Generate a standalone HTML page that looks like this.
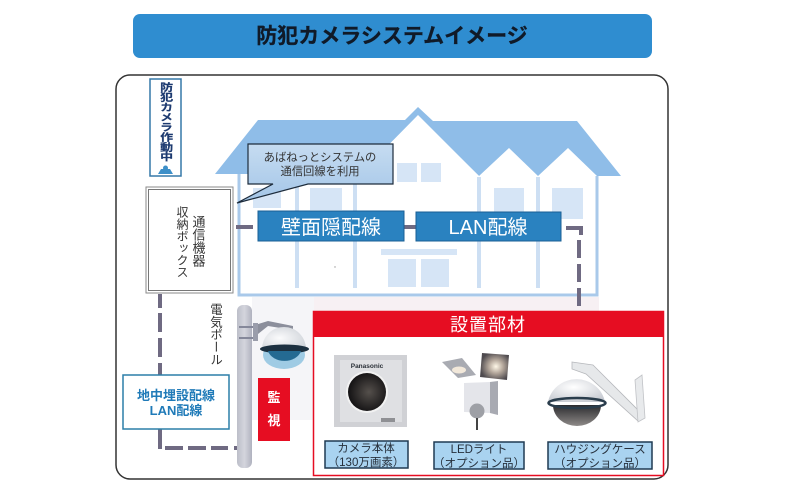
<!DOCTYPE html>
<html lang="ja">
<head>
<meta charset="utf-8">
<title>防犯カメラシステムイメージ</title>
<style>
html,body{margin:0;padding:0;background:#fff;width:800px;height:491px;overflow:hidden}
svg{display:block;font-family:"Liberation Sans","Noto Sans CJK JP",sans-serif;filter:blur(.35px)}
.v{writing-mode:vertical-rl;text-orientation:upright}
.wall{fill:none;stroke:#a9c9ea;stroke-width:3}
.inner{fill:none;stroke:#cddff3;stroke-width:4}
.win{fill:#d6e5f6}
.lbl{fill:#2a82c0;stroke:#1a5f94;stroke-width:1}
.wire{stroke:#6f6a82;stroke-width:4;fill:none}
.cap{fill:#a9d3f0;stroke:#1f3a52;stroke-width:1.5}
.capt{font-size:11.5px;fill:#26303c;text-anchor:middle}
</style>
</head>
<body>
<svg width="800" height="491" viewBox="0 0 800 491" xmlns="http://www.w3.org/2000/svg">
<defs>
<linearGradient id="pole" x1="0" x2="1" y1="0" y2="0"><stop offset="0" stop-color="#bcbec9"/><stop offset=".5" stop-color="#d4d5dd"/><stop offset="1" stop-color="#b0b2bf"/></linearGradient>
<linearGradient id="call" x1="0" x2="0" y1="0" y2="1"><stop offset="0" stop-color="#c6dcf1"/><stop offset="1" stop-color="#a3c5e7"/></linearGradient>
<radialGradient id="lens" cx=".55" cy=".5" r=".6"><stop offset="0" stop-color="#55504c"/><stop offset="1" stop-color="#0d0c0e"/></radialGradient>
<radialGradient id="dome" cx=".45" cy=".35" r=".8"><stop offset="0" stop-color="#ffffff"/><stop offset="1" stop-color="#bfc3cb"/></radialGradient>
<radialGradient id="pdome" cx=".4" cy=".5" r=".8"><stop offset="0" stop-color="#fbfbfc"/><stop offset="1" stop-color="#c6cbd2"/></radialGradient>
<linearGradient id="glass" x1="0" x2="0" y1="0" y2="1"><stop offset="0" stop-color="#2b2b2e"/><stop offset="1" stop-color="#8e8a88"/></linearGradient>
<radialGradient id="glow" cx=".55" cy=".5" r=".55"><stop offset="0" stop-color="#fff8e8"/><stop offset=".45" stop-color="#b5a89c"/><stop offset="1" stop-color="#4e4a4e"/></radialGradient>
</defs>

<!-- Title -->
<rect x="133" y="14" width="519" height="44" rx="7" fill="#2f8dd0"/>
<text x="392" y="43" font-size="21" font-weight="700" fill="#101a28" text-anchor="middle" stroke="#101a28" stroke-width=".3">防犯カメラシステムイメージ</text>

<!-- Frame -->
<rect x="116" y="75" width="552" height="404" rx="14" fill="#fff" stroke="#333" stroke-width="1.5"/>

<!-- Faint ground -->
<rect x="252" y="297" width="62" height="123" fill="#f5f5f8"/>
<rect x="314" y="297" width="285" height="14" fill="#f7f0f3"/>

<!-- House -->
<polygon points="215,174 258,120 405,120 418,107 433,121 577,121 621,176 597,176 568,148 538,176 509,148 479,176 418,115 360,174" fill="#8fbde8"/>
<polygon points="360,175 418,116 479,176 479,190 360,190" fill="#fff"/>
<path class="wall" d="M239,174V295H597V176"/>
<path class="inner" d="M297,176V288M355,176V288M479,177V288M538,177V288"/>
<rect class="win" x="253" y="188" width="28" height="20"/>
<rect class="win" x="310" y="188" width="32" height="22"/>
<rect class="win" x="397" y="163" width="20" height="19"/>
<rect class="win" x="421" y="163" width="20" height="19"/>
<rect class="win" x="494" y="188" width="30" height="30"/>
<rect class="win" x="552" y="188" width="31" height="31"/>
<rect class="win" x="381" y="249" width="76" height="6"/>
<rect class="win" x="388" y="259" width="28" height="28"/>
<rect class="win" x="421" y="259" width="28" height="28"/>
<circle cx="335" cy="267" r=".7" fill="#999"/>

<!-- Wires -->
<path class="wire" d="M236,227H253M404,227H416"/>
<path class="wire" d="M566,228H581V235"/>
<path class="wire" d="M579,240V258M579,264V282M579,288V306"/>
<path class="wire" d="M160,294V308M160,313V332M160,338V357M160,363V375M160,429V449"/>
<path class="wire" d="M165,448H183M188,448H206M211,448H228M234,448H238"/>

<!-- Blue labels -->
<rect class="lbl" x="258" y="211" width="146" height="30"/>
<text x="331" y="234" font-size="20" fill="#fff" text-anchor="middle">壁面隠配線</text>
<rect class="lbl" x="416" y="212" width="145" height="29"/>
<text x="488" y="234" font-size="20" fill="#fff" text-anchor="middle">LAN配線</text>

<!-- Callout -->
<path d="M248,144H393V184H308L237,203L273,184H248Z" fill="url(#call)" stroke="#1d2c3c" stroke-width="1.2"/>
<text x="320" y="161" font-size="11.300" fill="#333" text-anchor="middle" style="font-size:11.300px">あばねっとシステムの</text>
<text x="320" y="175" font-size="11.300" fill="#333" text-anchor="middle" style="font-size:11.300px">通信回線を利用</text>

<!-- Sign -->
<rect x="150" y="79" width="31" height="97" fill="#fff" stroke="#3579a8" stroke-width="1.5"/>
<g transform="translate(165.500,82) scale(1.3,1)">
<text class="v" x="0" y="0" fill="#1d3a70" font-weight="700" style="font-size:10px" stroke="#1d3a70" stroke-width=".2">防犯カメラ作動中</text>
</g>
<path d="M158,174L161,169H170L173,174Z" fill="#3d8fc8"/>
<circle cx="165.500" cy="168" r="2.500" fill="#3d8fc8"/>

<!-- Comm box -->
<rect x="146" y="187" width="87" height="106" fill="#fff" stroke="#8a8a8a" stroke-width="1"/>
<rect x="148.500" y="189.500" width="82" height="101" fill="#fff" stroke="#777" stroke-width="1"/>
<text class="v" x="182" y="206" font-size="12" fill="#333">収納ボックス</text>
<text class="v" x="198" y="215" font-size="13" fill="#333">通信機器</text>

<!-- Pole label -->
<text class="v" x="215" y="303" font-size="12.500" fill="#333" style="font-size:12.500px">電気ポール</text>

<!-- Pole -->
<rect x="237" y="305" width="15" height="163" rx="6" fill="url(#pole)"/>
<path d="M239,327H256M239,338H256" stroke="#85889a" stroke-width="2"/>
<!-- Pole camera -->
<path d="M255,325L268,321L293,326L293,330L268,326L258,334Z" fill="#8c8f9c"/>
<rect x="253" y="323" width="5" height="18" fill="#9a9dab"/>
<ellipse cx="284" cy="355" rx="21" ry="14" fill="#9fcbe4"/>
<path d="M262,349A22,22 0 0 1 306,349Z" fill="url(#pdome)"/>
<ellipse cx="284.500" cy="349" rx="24.500" ry="4.500" fill="#1c3040"/>
<path d="M268,351A17,13 0 0 0 301,351Z" fill="#246a92"/>

<!-- Monitor -->
<rect x="258" y="378" width="32" height="63" fill="#e60d22"/>
<text x="274" y="402" font-size="13" font-weight="700" fill="#fff" text-anchor="middle">監</text>
<text x="274" y="425" font-size="13" font-weight="700" fill="#fff" text-anchor="middle">視</text>

<!-- Underground label -->
<rect x="123" y="375" width="106" height="54" fill="#fff" stroke="#2c7fa8" stroke-width="1.5"/>
<text x="176" y="400" font-size="13" font-weight="700" fill="#1f7ab8" text-anchor="middle">地中埋設配線</text>
<text x="176" y="415" font-size="13" font-weight="700" fill="#1f7ab8" text-anchor="middle">LAN配線</text>

<!-- Parts panel -->
<rect x="313.500" y="311.500" width="350" height="164" fill="#fff" stroke="#e60d22" stroke-width="1.5"/>
<rect x="313" y="311" width="351" height="26" fill="#e60d22"/>
<text x="488" y="331" font-size="18" fill="#fff" text-anchor="middle" letter-spacing="1">設置部材</text>

<!-- Panasonic camera -->
<rect x="334" y="355" width="73" height="72" fill="#d0d1d5"/>
<rect x="340" y="360" width="62" height="62" fill="#dfe0e3"/>
<text x="367" y="368" font-weight="700" fill="#2a3038" text-anchor="middle" style="font-size:6.500px">Panasonic</text>
<circle cx="367" cy="392" r="21" fill="#f2f2f2"/>
<circle cx="367" cy="392" r="19" fill="url(#lens)"/>
<rect x="381" y="418" width="14" height="4" fill="#8f9094"/>

<!-- LED light -->
<polygon points="442,362 462,358 476,375 458,378" fill="#a9abb2"/>
<ellipse cx="459" cy="370" rx="7" ry="3.500" fill="#f2e8da"/>
<polygon points="482,353 509,355 507,380 480,377" fill="url(#glow)"/>
<polygon points="464,383 490,382 490,413 464,412" fill="#e4e5ea"/>
<polygon points="490,382 498,381 498,415 490,413" fill="#a8aab2"/>
<circle cx="477" cy="411" r="7.500" fill="#9ea0a6"/>
<path d="M477,418V430" stroke="#444" stroke-width="2"/>

<!-- Housing camera -->
<polygon points="572,362 593,365 643,415 638,421 586,374 572,369" fill="#e6e8ea" stroke="#b6b8bc" stroke-width=".8"/>
<polygon points="635,380 642,375 645,418 638,422" fill="#e8eaec" stroke="#c0c2c6" stroke-width=".8"/>
<path d="M548,402A29,28 0 0 1 605,402Z" fill="url(#dome)"/>
<path d="M553,405A24,21 0 0 0 601,405Z" fill="url(#glass)"/>
<ellipse cx="577" cy="403" rx="28.500" ry="5" fill="none" stroke="#2a3d4c" stroke-width="2.500"/>

<!-- Captions -->
<rect class="cap" x="325" y="441" width="83" height="27"/>
<text class="capt" x="366" y="452">カメラ本体</text>
<text class="capt" x="366" y="466">（130万画素）</text>
<rect class="cap" x="434" y="442" width="90" height="27"/>
<text class="capt" x="479" y="453">LEDライト</text>
<text class="capt" x="479" y="467">（オプション品）</text>
<rect class="cap" x="548" y="442" width="104" height="27"/>
<text class="capt" x="600" y="453">ハウジングケース</text>
<text class="capt" x="600" y="467">（オプション品）</text>
</svg>
</body>
</html>
